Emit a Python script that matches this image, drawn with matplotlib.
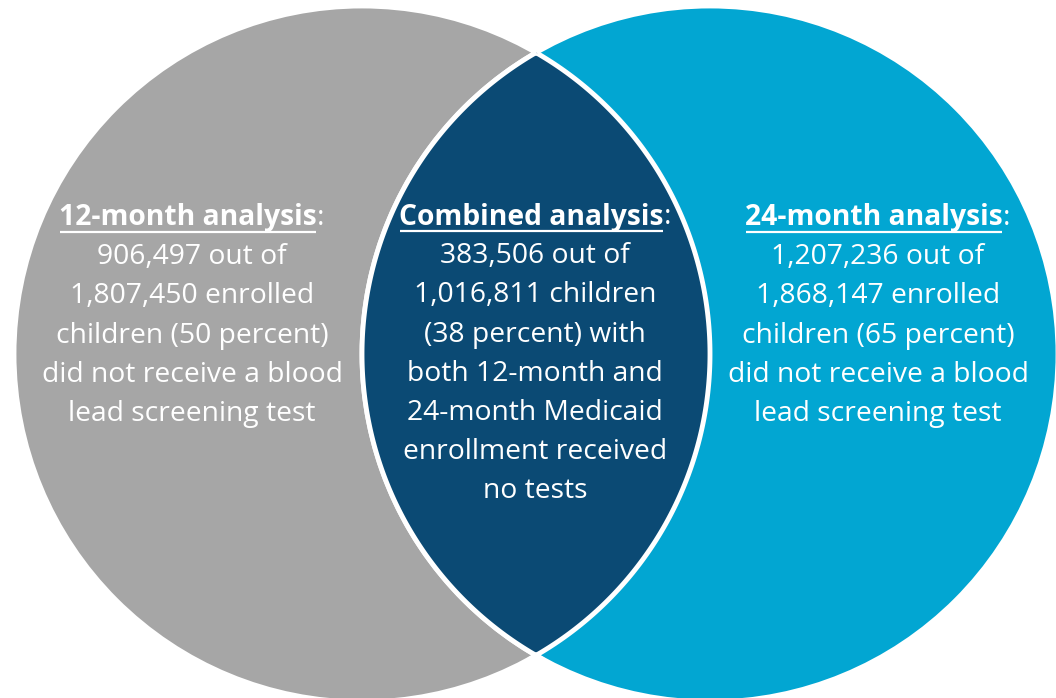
import numpy as np
import matplotlib
matplotlib.use("Agg")
import matplotlib.pyplot as plt
from matplotlib.patches import Circle, Polygon

plt.rcParams["font.family"] = ["Open Sans", "DejaVu Sans"]

# --------------------------------------
# Text content
# --------------------------------------
titles = ["12-month analysis", "Combined analysis", "24-month analysis"]
left_lines = [
    "906,497 out of",
    "1,807,450 enrolled",
    "children (50 percent)",
    "did not receive a blood",
    "lead screening test",
]
center_lines = [
    "383,506 out of",
    "1,016,811 children",
    "(38 percent) with",
    "both 12-month and",
    "24-month Medicaid",
    "enrollment received",
    "no tests",
]
right_lines = [
    "1,207,236 out of",
    "1,868,147 enrolled",
    "children (65 percent)",
    "did not receive a blood",
    "lead screening test",
]

GRAY = "#A6A6A6"
BLUE = "#02A6D2"
NAVY = "#0B4A74"

W, H = 1056, 698
fig = plt.figure(figsize=(W / 100, H / 100), dpi=100)
ax = fig.add_axes([0, 0, 1, 1])
ax.set_xlim(0, W)
ax.set_ylim(H, 0)
ax.set_axis_off()

# --- circles ---
R = 348
c1 = (362, 354)
c2 = (710, 354)
ax.add_patch(Circle(c1, R, facecolor=GRAY, edgecolor="white", lw=3.5, zorder=1))
ax.add_patch(Circle(c2, R, facecolor=BLUE, edgecolor="white", lw=3.5, zorder=2))

# --- lens (intersection) ---
d = (c2[0] - c1[0]) / 2
theta = np.arccos(d / R)
# right side: arc of the left circle, top -> bottom
t_right = np.linspace(-theta, theta, 200)
right_arc = np.column_stack([c1[0] + R * np.cos(t_right), c1[1] + R * np.sin(t_right)])
# left side: arc of the right circle, bottom -> top
t_left = np.linspace(np.pi - theta, np.pi + theta, 200)
left_arc = np.column_stack([c2[0] + R * np.cos(t_left), c2[1] + R * np.sin(t_left)])
lens = np.vstack([right_arc, left_arc])
ax.add_patch(Polygon(lens, closed=True, facecolor=NAVY, edgecolor="white",
                     lw=3.5, joinstyle="miter", zorder=3))

FS = 20.3
renderer = fig.canvas.get_renderer()


def text_width(t):
    bb = t.get_window_extent(renderer=renderer)
    return bb.width


def draw_block(cx, y0, title, lines, step=39.2):
    # title: bold underlined part + regular colon
    tb = ax.text(0, y0, title, fontsize=FS, fontweight="bold", color="white",
                 ha="left", va="center", zorder=5)
    tc = ax.text(0, y0, ":", fontsize=FS, color="white",
                 ha="left", va="center", zorder=5)
    wb = text_width(tb)
    wc = text_width(tc)
    x0 = cx - (wb + wc) / 2
    tb.set_x(x0)
    tc.set_x(x0 + wb)
    ax.plot([x0 + 1, x0 + wb - 1], [y0 + 14, y0 + 14], color="white",
            lw=1.6, solid_capstyle="butt", zorder=5)
    for i, line in enumerate(lines):
        ax.text(cx, y0 + step * (i + 1), line, fontsize=FS, color="white",
                ha="center", va="center", zorder=5)


draw_block(192, 218, titles[0], left_lines)
draw_block(535, 217, titles[1], center_lines)
draw_block(878, 218, titles[2], right_lines)

fig.savefig("out.png", dpi=100)
